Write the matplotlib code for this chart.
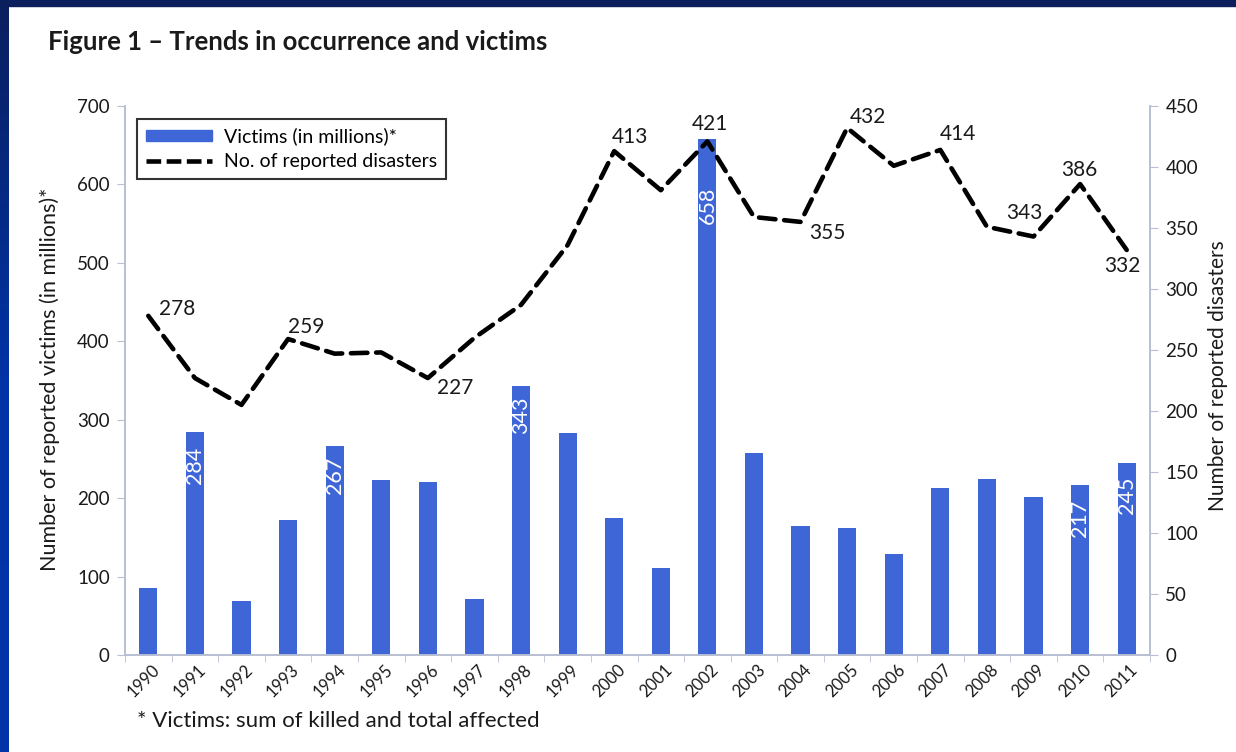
import numpy as np
import matplotlib.pyplot as plt
import matplotlib.patches as mpatches
import matplotlib.transforms as mtransforms
from matplotlib.lines import Line2D
from matplotlib.colors import LinearSegmentedColormap

# Datos
years = [str(y) for y in range(1990, 2012)]
victims = [85, 284, 69, 172, 267, 223, 221, 72, 343, 283, 175, 111,
           658, 257, 164, 162, 129, 213, 224, 201, 217, 245]
disasters = [278, 227, 205, 259, 247, 248, 227, 260, 287, 336, 413, 381,
             421, 359, 355, 432, 401, 414, 351, 343, 386, 332]

# barras con etiqueta (indice: desplazamiento en px desde el tope)
bar_labels = {1: 14, 4: 11, 8: 11, 12: 48, 20: 15, 21: 14}
# etiquetas de la linea (indice: dx, dy en px)
line_labels = {0: (29, 7), 3: (18, 12), 6: (27, -10), 10: (16, 14), 12: (3, 17),
               14: (27, -11), 15: (21, 11), 17: (18, 16), 19: (-9, 24),
               20: (-1, 14), 21: (-4, -16)}

blue = '#3F66D6'
axis_col = '#B9BFD2'
text_col = '#1A1A1A'

plt.rcParams['font.family'] = ['Lato', 'DejaVu Sans']

fig = plt.figure(figsize=(12.36, 7.52), dpi=100)
fig.patch.set_facecolor('white')

# borde azul de la diapositiva
bar_left = fig.add_axes([0, 0, 9 / 1236, 1])
grad = np.linspace(0, 1, 256).reshape(-1, 1)
cmap = LinearSegmentedColormap.from_list('b', ['#0B1F5E', '#0033A6', '#0035A8'])
bar_left.imshow(grad, aspect='auto', cmap=cmap, extent=[0, 1, 0, 1], origin='upper')
bar_left.axis('off')
fig.add_artist(mpatches.Rectangle((0, 1 - 6 / 752), 1, 6 / 752, transform=fig.transFigure,
                                  color='#0B1F5C', zorder=10))

ax = fig.add_axes([125 / 1236, 1 - 655 / 752, 1025 / 1236, 549 / 752])
x = np.arange(len(years))
ax.bar(x, victims, width=0.39, color=blue, zorder=2)
ax.set_xlim(-0.5, len(years) - 0.5)
ax.set_ylim(0, 700)
ax.set_yticks(range(0, 701, 100))

for i, off in bar_labels.items():
    ax.annotate(str(victims[i]), (x[i], victims[i]), xytext=(0, -off),
                textcoords='offset pixels', rotation=90, ha='center', va='top',
                color='white', fontsize=15.5, zorder=3)

ax2 = ax.twinx()
ax2.plot(x, disasters, color='black', lw=3.3, linestyle=(0, (3.6, 1.9)),
         dash_capstyle='round', zorder=4)
ax2.set_ylim(0, 450)
ax2.set_yticks(range(0, 451, 50))

for i, (dx, dy) in line_labels.items():
    ax2.annotate(str(disasters[i]), (x[i], disasters[i]), xytext=(dx, dy),
                 textcoords='offset pixels', ha='center', va='center',
                 color=text_col, fontsize=15)

# ejes
for a in (ax, ax2):
    for s in a.spines.values():
        s.set_color(axis_col)
        s.set_linewidth(1.2)
    a.spines['top'].set_visible(False)
ax.tick_params(axis='y', colors=axis_col, labelcolor=text_col, labelsize=13.5, length=6, pad=5)
ax2.tick_params(axis='y', colors=axis_col, labelcolor=text_col, labelsize=13.5, length=6, pad=5)

ax.set_xticks(x)
ax.set_xticklabels(years, rotation=45, ha='right', rotation_mode='anchor', fontsize=12,
                   color=text_col)
ax.set_xticks(np.arange(-0.5, len(years), 1), minor=True)
ax.tick_params(axis='x', which='major', length=0, pad=5)
ax.tick_params(axis='x', which='minor', length=5, colors=axis_col)
shift = mtransforms.ScaledTranslation(0.03, 0, fig.dpi_scale_trans)
for lbl in ax.get_xticklabels():
    lbl.set_transform(lbl.get_transform() + shift)

# leyenda
handles = [mpatches.Patch(color=blue), Line2D([], [], color='black', lw=3.3, linestyle=(0, (3.2, 1.2)))]
leg = ax2.legend(handles, ['Victims (in millions)*', 'No. of reported disasters'],
                 loc='upper left', bbox_to_anchor=(0.012, 0.977), frameon=True, fancybox=False,
                 fontsize=14, handlelength=3.4, handleheight=0.45, borderpad=0.45,
                 labelspacing=0.4, borderaxespad=0, handletextpad=0.6)
leg.get_frame().set_edgecolor('black')
leg.get_frame().set_linewidth(1.5)

# textos
fig.text(48 / 1236, 1 - 42 / 752, 'Figure 1 \u2013 Trends in occurrence and victims',
         fontsize=18.5, fontweight='bold', color=text_col, va='center')
fig.text(50 / 1236, 1 - 379 / 752, 'Number of reported victims (in millions)*',
         rotation=90, fontsize=15.5, color=text_col, ha='center', va='center')
fig.text(1218 / 1236, 1 - 376 / 752, 'Number of reported disasters',
         rotation=90, fontsize=15, color=text_col, ha='center', va='center')
fig.text(137 / 1236, 1 - 721 / 752, '* Victims: sum of killed and total affected',
         fontsize=16, color=text_col, va='center')

plt.savefig('out.png', dpi=100)
